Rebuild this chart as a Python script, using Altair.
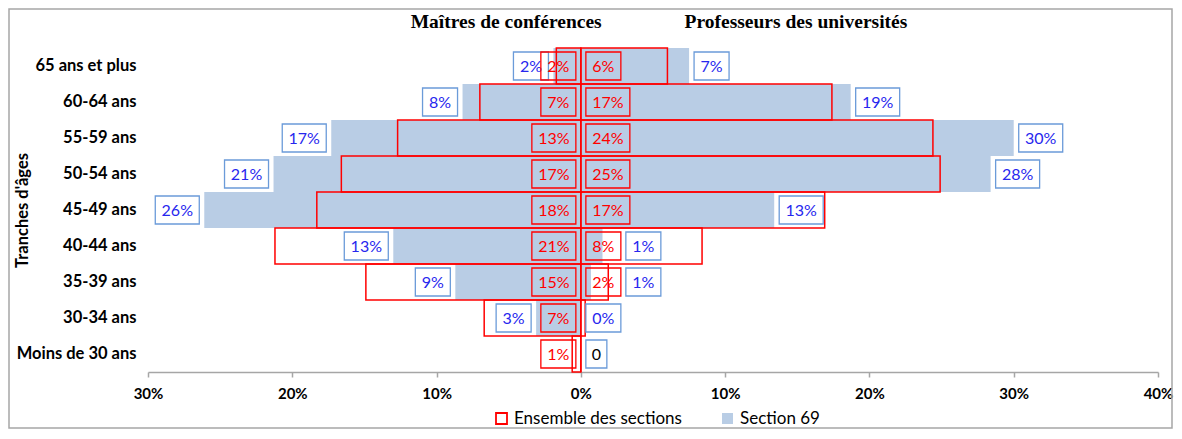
import altair as alt
import pandas as pd

# ---------------- data ----------------
categories = ["65 ans et plus", "60-64 ans", "55-59 ans", "50-54 ans", "45-49 ans",
              "40-44 ans", "35-39 ans", "30-34 ans", "Moins de 30 ans"]

mcf_section69 = [1.9, 8.2, 17.3, 21.3, 26.1, 13.0, 8.7, 3.1, 0.0]
pr_section69 = [7.5, 18.7, 30.0, 28.4, 13.4, 1.5, 0.7, 0.0, 0.0]
mcf_ensemble = [1.7, 7.0, 12.7, 16.6, 18.3, 21.2, 14.9, 6.7, 0.6]
pr_ensemble = [6.0, 17.4, 24.4, 24.9, 16.9, 8.4, 1.9, 0.3, 0.0]

mcf_section69_labels = ["2%", "8%", "17%", "21%", "26%", "13%", "9%", "3%", ""]
pr_section69_labels = ["7%", "19%", "30%", "28%", "13%", "1%", "1%", "0%", "0"]
mcf_ensemble_labels = ["2%", "7%", "13%", "17%", "18%", "21%", "15%", "7%", "1%"]
pr_ensemble_labels = ["6%", "17%", "24%", "25%", "17%", "8%", "2%", "", ""]

x_ticks = [-30, -20, -10, 0, 10, 20, 30, 40]
panel_titles = ["Maîtres de conférences", "Professeurs des universités"]
series_names = ["Ensemble des sections", "Section 69"]

# ---------------- styles ----------------
FONT = "Lato"
BLUE_BAR = "#b9cde5"
BLUE_TXT = "#2727ee"
BLUE_BOX = "#6b9bd9"
RED = "#ff0000"
W, H = 1010, 324
X_DOMAIN = [-30, 40]
PX_PER_UNIT = W / (X_DOMAIN[1] - X_DOMAIN[0])

# label box widths in 10px units (size=400 -> 10 px per path unit)
widths = {1: 2.1, 2: 3.5, 3: 4.4}
GAP = 0.5


def rows(values, labels, sign, side, at_base, avoid=None):
    out = []
    for i, (c, v, l) in enumerate(zip(categories, values, labels)):
        anchor = 0.0 if at_base else sign * v
        if avoid is not None and avoid[i]:
            # keep the label clear of the base label of the other series
            end = (GAP + widths[len(avoid[i])]) * 10 / PX_PER_UNIT
            if abs(anchor) < end:
                anchor = sign * end
        out.append(dict(cat=c, v=sign * v, label=l, side=side, n=len(l),
                        anchor=anchor, key=f"{side}{len(l)}"))
    return out


s69 = pd.DataFrame(rows(mcf_section69, mcf_section69_labels, -1, "L", False)
                   + rows(pr_section69, pr_section69_labels, 1, "R", False,
                          avoid=pr_ensemble_labels))
s69["serie69"] = series_names[1]
ens = pd.DataFrame(rows(mcf_ensemble, mcf_ensemble_labels, -1, "L", True)
                   + rows(pr_ensemble, pr_ensemble_labels, 1, "R", True))
ens["serieEns"] = series_names[0]

x_scale = alt.Scale(domain=X_DOMAIN, nice=False)
y_scale = alt.Scale(domain=categories, paddingInner=0, paddingOuter=0)

x_axis = alt.Axis(values=x_ticks, labelExpr="abs(datum.value) + '%'", title=None,
                  grid=False, domainColor="#a6a6a6", domainWidth=1.5,
                  tickColor="#a6a6a6", tickWidth=1.5, tickSize=5,
                  labelFont=FONT, labelFontSize=15, labelFontWeight="bold",
                  labelColor="black", labelPadding=9, labelFlush=False)
y_axis = alt.Axis(title="Tranches d'âges", labelFont=FONT, labelFontWeight="bold",
                  labelFontSize=16.5, labelColor="black", labelPadding=12,
                  ticks=False, domain=False, labelLimit=300, grid=False,
                  titleFont=FONT, titleFontSize=16.5, titleFontWeight="bold",
                  titleColor="black", titleAngle=270, titleX=-126, titleY=H / 2,
                  titleAlign="center", titleBaseline="middle")

shape_domain, shape_range = [], []
for side in ["L", "R"]:
    for n, w in widths.items():
        if side == "L":
            x0, x1 = -(GAP + w), -GAP
        else:
            x0, x1 = GAP, GAP + w
        shape_domain.append(f"{side}{n}")
        shape_range.append(f"M{x0},-1.4L{x1},-1.4L{x1},1.4L{x0},1.4Z")
shape_scale = alt.Scale(domain=shape_domain, range=shape_range)

Y = alt.Y("cat:N", sort=categories, scale=y_scale, axis=y_axis)


def X(field):
    return alt.X(f"{field}:Q", scale=x_scale, stack=None, axis=x_axis)


legend_common = dict(title=None, orient="none", legendY=362, symbolType="square",
                     symbolSize=121, labelFont=FONT, labelFontSize=17, labelColor="black",
                     labelOffset=4, padding=0, labelLimit=400)

# ---------------- layers ----------------
bars69 = alt.Chart(s69).mark_bar().encode(
    y=Y,
    x=X("v"),
    x2=alt.datum(0),
    fill=alt.Fill("serie69:N", scale=alt.Scale(domain=[series_names[1]], range=[BLUE_BAR]),
                  legend=alt.Legend(legendX=571, symbolStrokeWidth=0, **legend_common)),
)

bars_ens = alt.Chart(ens).mark_bar(filled=False, strokeWidth=1.5).encode(
    y=Y,
    x=X("v"),
    x2=alt.datum(0),
    stroke=alt.Stroke("serieEns:N", scale=alt.Scale(domain=[series_names[0]], range=[RED]),
                      legend=alt.Legend(legendX=345, symbolStrokeWidth=1.8,
                                        symbolFillColor="white", **legend_common)),
)


def label_layers(df, box_color, txt_color):
    base = alt.Chart(df).transform_filter("datum.label != ''")
    boxes = base.mark_point(filled=False, strokeWidth=1.3, opacity=1, color=box_color,
                            size=400).encode(
        y=Y,
        x=X("anchor"),
        shape=alt.Shape("key:N", scale=shape_scale, legend=None),
    )
    layers = [boxes]
    for side in ["L", "R"]:
        for n, w in widths.items():
            off = (GAP + w / 2) * 10
            dx = -off if side == "L" else off
            t = base.transform_filter(
                f"datum.side == '{side}' && datum.n == {n}"
            ).mark_text(font=FONT, fontSize=16, align="center", baseline="middle",
                        dx=dx, dy=0.5).encode(
                y=Y,
                x=X("anchor"),
                text="label:N",
                color=alt.condition("datum.label == '0'", alt.value("black"),
                                    alt.value(txt_color)),
            )
            layers.append(t)
    return layers


border = alt.Chart(pd.DataFrame({"b": [0]})).mark_rect(
    filled=False, stroke="#a6a6a6", strokeWidth=1.5).encode(
    x=alt.value(-139), x2=alt.value(1024), y=alt.value(-39), y2=alt.value(380))

layers = [bars69, bars_ens] + label_layers(s69, BLUE_BOX, BLUE_TXT) \
    + label_layers(ens, RED, RED) + [border]

title_text = panel_titles[0] + "\u00a0" * 17 + panel_titles[1]

chart = alt.layer(*layers).properties(
    width=W, height=H,
    autosize=alt.AutoSizeParams(type="none"),
    padding={"left": 140, "top": 40, "right": 16, "bottom": 58},
    title=alt.TitleParams(text=title_text, font="Liberation Serif", fontSize=19.5,
                          fontWeight="bold", color="black", anchor="middle",
                          baseline="alphabetic", frame="group", dx=6, dy=39, offset=0),
).configure(background="white", view=alt.ViewConfig(stroke=None))

chart.save("out.html", embed_options={"renderer": "svg", "actions": False})
